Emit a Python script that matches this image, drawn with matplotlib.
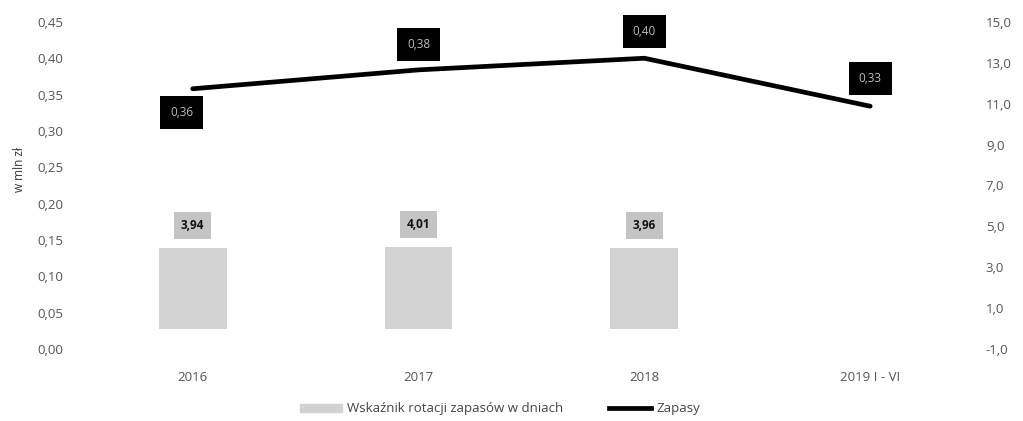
import matplotlib
matplotlib.use("Agg")
import matplotlib.pyplot as plt
from matplotlib.lines import Line2D
from matplotlib.patches import Patch
from matplotlib.ticker import FuncFormatter

plt.rcParams['font.family'] = ['Open Sans', 'DejaVu Sans']

categories = ["2016", "2017", "2018", "2019 I - VI"]
rotacja_dni = [3.94, 4.01, 3.96]          # bars, right axis
zapasy_mln = [0.358, 0.384, 0.400, 0.334]  # line, left axis

left_ticks = [0.00, 0.05, 0.10, 0.15, 0.20, 0.25, 0.30, 0.35, 0.40, 0.45]
right_ticks = [-1.0, 1.0, 3.0, 5.0, 7.0, 9.0, 11.0, 13.0, 15.0]

tick_color = "#555555"
bar_color = "#d3d3d3"
bar_label_bg = "#c4c4c4"

fig = plt.figure(figsize=(10.23, 4.21), dpi=100)
ax = fig.add_axes([0.078, 0.171, 0.883, 0.777])
ax2 = ax.twinx()

x = list(range(len(categories)))

# bars on the right axis
ax2.bar(x[:len(rotacja_dni)], rotacja_dni, width=0.3, color=bar_color, zorder=1)
for xi, v in zip(x, rotacja_dni):
    ax2.annotate(f"{v:.2f}".replace(".", ","), (xi, v), xytext=(0, 16),
                 textcoords="offset points", ha="center", va="center",
                 fontsize=8.5, fontweight="bold", color="#111111",
                 bbox=dict(boxstyle="square,pad=0.6", fc=bar_label_bg, ec="none"))
ax2.set_ylim(right_ticks[0], right_ticks[-1])
ax2.set_yticks(right_ticks)
ax2.yaxis.set_major_formatter(FuncFormatter(lambda v, p: f"{v:.1f}".replace(".", ",")))

# line on the left axis, drawn above the bars
ax.set_zorder(ax2.get_zorder() + 1)
ax.patch.set_visible(False)
ax.plot(x, zapasy_mln, color="black", linewidth=3.4, solid_capstyle="round", zorder=3)
offsets = [(-8, -17), (0, 18), (0, 19), (0, 20)]
for xi, v, off in zip(x, zapasy_mln, offsets):
    ax.annotate(f"{v:.2f}".replace(".", ","), (xi, v), xytext=off,
                textcoords="offset points", ha="center", va="center",
                fontsize=8.5, color="#bdbdbd",
                bbox=dict(boxstyle="square,pad=0.85", fc="black", ec="none"))
ax.set_ylim(left_ticks[0], left_ticks[-1])
ax.set_yticks(left_ticks)
ax.yaxis.set_major_formatter(FuncFormatter(lambda v, p: f"{v:.2f}".replace(".", ",")))
ax.set_ylabel("w mln zł", fontsize=8.5, color="#333333")
ax.yaxis.set_label_coords(-0.060, 0.55)

ax.set_xlim(-0.5, len(categories) - 0.5)
ax.set_xticks(x)
ax.set_xticklabels(categories)

for a in (ax, ax2):
    for s in a.spines.values():
        s.set_visible(False)
    a.tick_params(length=0, labelsize=9.5, colors=tick_color)
ax.tick_params(axis="y", pad=12)
ax.tick_params(axis="x", pad=16)
ax2.tick_params(axis="y", pad=2)

handles = [Patch(color=bar_color, label="Wskaźnik rotacji zapasów w dniach"),
           Line2D([0], [0], color="black", lw=3.4, label="Zapasy")]
fig.legend(handles=handles, loc="lower center", bbox_to_anchor=(0.489, -0.015),
           ncol=2, frameon=False, fontsize=9.5, handlelength=3.2,
           handleheight=0.5, handletextpad=0.4, columnspacing=3.45,
           labelcolor="#444444")

fig.savefig("out.png", dpi=100)
